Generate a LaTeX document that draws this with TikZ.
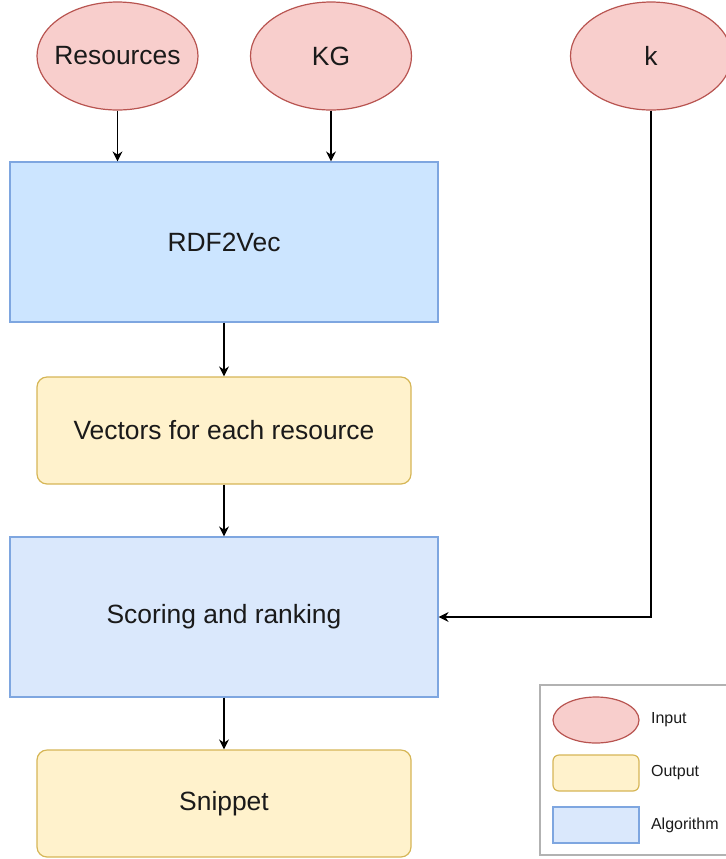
\documentclass[tikz,border=0pt]{standalone}
\usepackage{fontspec}
\setmainfont{Liberation Sans}
\usetikzlibrary{shapes.geometric, arrows.meta}

\definecolor{inFill}{HTML}{F8CECC}
\definecolor{inLine}{HTML}{B85450}
\definecolor{outFill}{HTML}{FFF2CC}
\definecolor{outLine}{HTML}{D6B656}
\definecolor{algFill}{HTML}{DAE8FC}
\definecolor{algLine}{HTML}{7EA6E0}
\definecolor{rdfFill}{HTML}{CCE5FF}
\definecolor{txtCol}{HTML}{1A1A1A}

\begin{document}
\begin{tikzpicture}[x=0.5pt, y=-0.5pt,
    every node/.style={text=txtCol, font=\fontsize{13.2}{16}\selectfont},
    inputnode/.style={ellipse, draw=inLine, fill=inFill, line width=0.6pt,
        minimum width=80.5pt, minimum height=54pt, inner xsep=-4pt, inner ysep=0pt},
    outputnode/.style={rectangle, rounded corners=5pt, draw=outLine, fill=outFill,
        line width=0.6pt, minimum width=187pt, minimum height=53.5pt},
    algonode/.style={rectangle, draw=algLine, fill=algFill, line width=0.6pt,
        minimum width=214pt, minimum height=80pt},
    flow/.style={-{Stealth[length=5pt, width=5pt]}, line width=0.7pt, black},
    legendtext/.style={anchor=west, font=\fontsize{8}{10}\selectfont}]
    \clip (0,0) rectangle (726,859);

    % --- inputs ---
    \node[inputnode] (res) at (117.5,56) {Resources};
    \node[inputnode] (kg) at (331,56) {KG};
    \node[inputnode] (k) at (651,56) {k};

    % --- pipeline ---
    \node[algonode, fill=rdfFill] (rdf) at (224,242) {RDF2Vec};
    \node[outputnode] (vec) at (224,430.5) {Vectors for each resource};
    \node[algonode] (score) at (224,617) {Scoring and ranking};
    \node[outputnode] (snip) at (224,803.5) {Snippet};

    % --- connectors ---
    \draw[flow] (res) -- (res |- rdf.north);
    \draw[flow] (kg) -- (kg |- rdf.north);
    \draw[flow] (rdf) -- (vec);
    \draw[flow] (vec) -- (score);
    \draw[flow] (k) |- (score);
    \draw[flow] (score) -- (snip);

    % --- legend ---
    \draw[black!30, line width=0.8pt] (540,685) rectangle (780,855);
    \node[inputnode, minimum width=43pt, minimum height=23pt] (lin) at (596,720) {};
    \node[outputnode, minimum width=43pt, minimum height=18pt, rounded corners=3pt] (lout) at (596,773) {};
    \node[algonode, minimum width=43pt, minimum height=18pt] (lalg) at (596,825) {};
    \node[legendtext] (tin) at (644,720) {Input};
    \node[legendtext] (tout) at (644,773) {Output};
    \node[legendtext] (talg) at (644,825) {Algorithm};
\end{tikzpicture}
\end{document}
